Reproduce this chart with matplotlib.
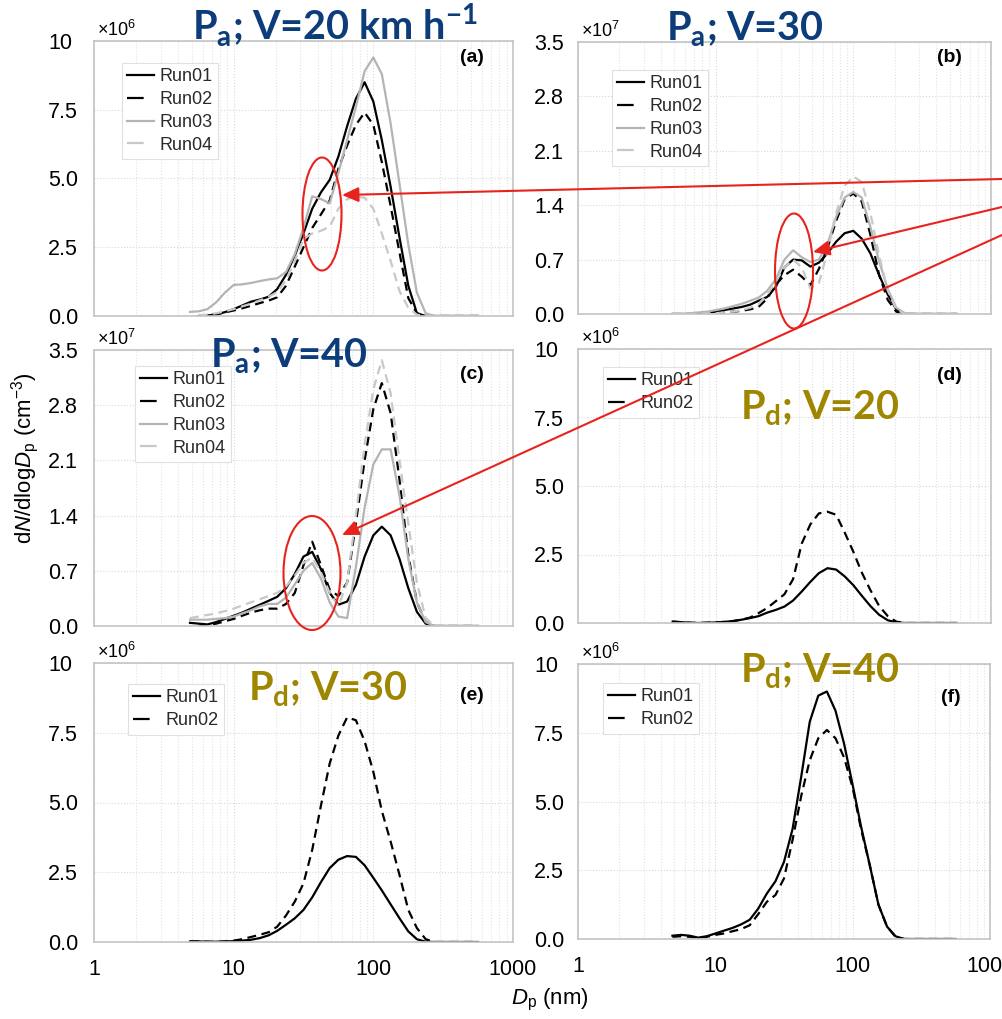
import numpy as np
import matplotlib
matplotlib.use('Agg')
import matplotlib.pyplot as plt
from matplotlib.patches import Ellipse, FancyArrowPatch
from matplotlib.lines import Line2D

plt.rcParams['font.family'] = ['Liberation Sans', 'DejaVu Sans']
plt.rcParams['mathtext.fontset'] = 'custom'
plt.rcParams['mathtext.rm'] = 'Liberation Sans'
plt.rcParams['mathtext.it'] = 'Liberation Sans:italic'
plt.rcParams['mathtext.bf'] = 'Lato:bold'

#%% data (values in units of the panel's x10^n factor)
dp = [4.87, 5.62, 6.49, 7.50, 8.66, 10.0, 11.5, 13.3, 15.4, 17.8, 20.5, 23.7, 27.4,
      31.6, 36.5, 42.2, 48.7, 56.2, 64.9, 75.0, 86.6, 100, 115, 133, 154, 178,
      205, 237, 274, 316, 365, 422, 487, 562]
nan = np.nan
# (a) Pa, V=20, x10^6
a_run01 = [nan, 0.0, 0.02, 0.06, 0.14, 0.25, 0.38, 0.52, 0.60, 0.70, 0.98, 1.5, 2.2,
           3.0, 3.9, 4.5, 4.95, 5.8, 6.9, 7.9, 8.5, 7.8, 6.4, 4.7, 2.85, 1.1,
           0.1, 0.0, 0, 0, 0, 0, 0, 0]
a_run02 = [nan, 0.0, 0.02, 0.06, 0.13, 0.20, 0.28, 0.37, 0.47, 0.56, 0.68, 1.1, 1.8,
           2.5, 3.2, 3.7, 4.2, 5.35, 6.2, 6.95, 7.4, 6.95, 5.6, 4.0, 2.3, 0.65,
           0.1, 0.0, 0, 0, 0, 0, 0, 0]
a_run03 = [0.15, 0.17, 0.25, 0.5, 0.85, 1.13, 1.15, 1.2, 1.27, 1.33, 1.37, 1.6, 2.25,
           3.2, 4.35, 4.25, 4.1, 5.2, 6.4, 7.6, 8.9, 9.4, 8.8, 7.0, 4.8, 2.6,
           0.85, 0.1, 0.0, 0, 0, 0, 0, 0]
a_run04 = [nan, 0.02, 0.05, 0.1, 0.17, 0.25, 0.35, 0.45, 0.57, 0.7, 0.87, 1.3, 2.0,
           2.8, 3.0, 3.1, 3.25, 3.9, 4.25, 4.35, 4.3, 3.9, 3.0, 2.0, 0.9, 0.3,
           0.05, 0.0, 0, 0, 0, 0, 0, 0]
# (b) Pa, V=30, x10^7
b_run01 = [0.0, 0.0, 0.0, 0.01, 0.02, 0.03, 0.05, 0.07, 0.09, 0.12, 0.17, 0.22, 0.35,
           0.6, 0.70, 0.69, 0.61, 0.66, 0.78, 0.93, 1.04, 1.07, 0.97, 0.78, 0.5, 0.25,
           0.06, 0.0, 0, 0, 0, 0, 0, 0]
b_run02 = [0.0, 0.0, 0.0, 0.0, 0.01, 0.01, 0.02, 0.03, 0.04, 0.06, 0.09, 0.2, 0.38,
           0.5, 0.57, 0.48, 0.37, 0.58, 0.85, 1.2, 1.48, 1.55, 1.45, 1.02, 0.5, 0.18,
           0.03, 0.0, 0, 0, 0, 0, 0, 0]
b_run03 = [0.0, 0.0, 0.01, 0.02, 0.03, 0.05, 0.07, 0.1, 0.13, 0.17, 0.21, 0.3, 0.45,
           0.7, 0.82, 0.73, 0.67, 0.7, 0.9, 1.25, 1.5, 1.57, 1.5, 1.12, 0.68, 0.32,
           0.08, 0.01, 0.0, 0, 0, 0, 0, 0]
b_run04 = [0.0, 0.0, 0.0, 0.0, 0.01, 0.01, 0.02, 0.03, 0.05, 0.08, 0.13, 0.25, 0.42,
           0.6, 0.7, 0.6, 0.33, 0.4, 0.8, 1.3, 1.65, 1.77, 1.7, 1.3, 0.75, 0.3,
           0.06, 0.0, 0, 0, 0, 0, 0, 0]
# (c) Pa, V=40, x10^7
c_run01 = [0.04, 0.03, 0.02, 0.05, 0.09, 0.13, 0.17, 0.22, 0.27, 0.32, 0.37, 0.48, 0.66,
           0.88, 0.94, 0.72, 0.42, 0.27, 0.31, 0.52, 0.88, 1.15, 1.26, 1.15, 0.85, 0.48,
           0.18, 0.03, 0.0, 0, 0, 0, 0, 0]
c_run02 = [nan, 0.0, 0.01, 0.03, 0.06, 0.09, 0.13, 0.17, 0.2, 0.22, 0.22, 0.28, 0.42,
           0.77, 1.07, 0.77, 0.46, 0.38, 0.55, 1.3, 2.1, 2.75, 3.08, 2.7, 1.85, 0.9,
           0.3, 0.05, 0.0, 0, 0, 0, 0, 0]
c_run03 = [0.08, 0.08, 0.08, 0.09, 0.1, 0.12, 0.16, 0.2, 0.25, 0.28, 0.28, 0.36, 0.53,
           0.7, 0.8, 0.6, 0.3, 0.12, 0.1, 0.75, 1.5, 2.05, 2.24, 2.24, 1.65, 0.85,
           0.3, 0.05, 0.0, 0, 0, 0, 0, 0]
c_run04 = [0.1, 0.12, 0.14, 0.16, 0.19, 0.22, 0.26, 0.3, 0.34, 0.38, 0.42, 0.5, 0.64,
           0.8, 0.87, 0.68, 0.42, 0.25, 0.55, 1.4, 2.3, 3.0, 3.37, 2.95, 2.1, 1.3,
           0.55, 0.1, 0.0, 0, 0, 0, 0, 0]
# (d) Pd, V=20, x10^6
d_run01 = [0.05, 0.03, 0.01, 0.0, 0.01, 0.02, 0.04, 0.07, 0.12, 0.18, 0.25, 0.38, 0.48,
           0.6, 0.82, 1.15, 1.5, 1.82, 2.0, 1.95, 1.7, 1.38, 1.0, 0.62, 0.3, 0.1,
           0.02, 0.0, 0, 0, 0, 0, 0, 0]
d_run02 = [0.05, 0.03, 0.01, 0.0, 0.01, 0.02, 0.04, 0.07, 0.12, 0.2, 0.36, 0.55, 0.8,
           1.05, 1.6, 2.9, 3.6, 4.0, 4.06, 3.95, 3.3, 2.6, 1.85, 1.2, 0.62, 0.25,
           0.05, 0.0, 0, 0, 0, 0, 0, 0]
# (e) Pd, V=30, x10^6
e_run01 = [0.02, 0.02, 0.01, 0.01, 0.02, 0.03, 0.05, 0.08, 0.14, 0.24, 0.4, 0.62, 0.85,
           1.15, 1.6, 2.15, 2.65, 2.95, 3.08, 3.05, 2.75, 2.3, 1.85, 1.35, 0.85, 0.38,
           0.1, 0.01, 0.0, 0, 0, 0, 0, 0]
e_run02 = [0.02, 0.02, 0.01, 0.0, 0.02, 0.05, 0.1, 0.18, 0.26, 0.35, 0.55, 0.95, 1.45,
           2.1, 3.3, 4.9, 6.4, 7.4, 8.05, 7.95, 7.2, 6.1, 4.7, 3.6, 2.4, 1.15,
           0.5, 0.1, 0.0, 0, 0, 0, 0, 0]
# (f) Pd, V=40, x10^6
f_run01 = [0.12, 0.15, 0.12, 0.05, 0.1, 0.2, 0.3, 0.4, 0.53, 0.7, 1.1, 1.65, 2.1,
           2.8, 4.0, 5.9, 7.9, 8.85, 9.0, 8.3, 7.1, 5.6, 4.1, 2.7, 1.25, 0.45,
           0.1, 0.0, 0, 0, 0, 0, 0, 0]
f_run02 = [0.08, 0.1, 0.08, 0.04, 0.08, 0.15, 0.2, 0.28, 0.36, 0.5, 0.9, 1.35, 1.6,
           2.2, 3.6, 5.2, 6.5, 7.3, 7.6, 7.3, 6.6, 5.5, 4.0, 2.7, 1.25, 0.45,
           0.08, 0.0, 0, 0, 0, 0, 0, 0]

run_names = ['Run01', 'Run02', 'Run03', 'Run04']
ticks_e6 = [0, 2.5, 5.0, 7.5, 10]
labels_e6 = ['0.0', '2.5', '5.0', '7.5', '10']
ticks_e7 = [0, 0.7, 1.4, 2.1, 2.8, 3.5]
labels_e7 = ['0.0', '0.7', '1.4', '2.1', '2.8', '3.5']

#%% figure
W, H = 1002, 1019
fig = plt.figure(figsize=(W / 100, H / 100), dpi=100)

def rect(l, t, r, b):
    return [l / W, 1 - b / H, (r - l) / W, (b - t) / H]

colors = ['black', 'black', '#b4b4b4', '#c8c8c8']
line_ls = ['-', (0, (4, 2.5)), '-', (0, (4, 2.5))]
legend_ls = ['-', (0, (7.5, 6)), '-', (0, (7.5, 6))]

# box (px), runs, exponent, legend offset (px), label, label offset (px), x labels
panels = [
    ((94, 41, 513, 316), [a_run01, a_run02, a_run03, a_run04], 6, (28, 22), '(a)', 17, False),
    ((578, 42, 991, 314), [b_run01, b_run02, b_run03, b_run04], 7, (34, 28), '(b)', 15, False),
    ((94, 350, 513, 626), [c_run01, c_run02, c_run03, c_run04], 7, (41, 16), '(c)', 25, False),
    ((578, 349, 991, 623), [d_run01, d_run02], 6, (25, 18), '(d)', 26, False),
    ((94, 663, 513, 942), [e_run01, e_run02], 6, (34, 21), '(e)', 32, True),
    ((578, 664, 990, 939), [f_run01, f_run02], 6, (25, 19), '(f)', 33, True),
]

for box, runs, expo, leg_off, lab, lab_dy, bottom in panels:
    l, t, r, b = box
    ax = fig.add_axes(rect(l, t, r, b))
    handles = []
    for i, vals in enumerate(runs):
        ax.plot(dp, vals, lw=1.6, color=colors[i], ls=line_ls[i])
        handles.append(Line2D([], [], lw=1.6, color=colors[i], ls=legend_ls[i]))
    ax.set_xscale('log')
    ax.set_xlim(1, 1000)
    if expo == 6:
        ax.set_ylim(0, 10)
        ax.set_yticks(ticks_e6)
        ax.set_yticklabels(labels_e6, ha='left')
    else:
        ax.set_ylim(0, 3.5)
        ax.set_yticks(ticks_e7)
        ax.set_yticklabels(labels_e7, ha='left')
    pad = 46 if l < 500 else 44
    ax.tick_params(axis='y', length=0, pad=pad * 0.72, labelsize=15.5)
    ax.tick_params(axis='x', which='both', length=0, pad=12, labelsize=15.5)
    ax.set_xticks([1, 10, 100, 1000])
    if bottom:
        ax.set_xticklabels(['1', '10', '100', '1000'])
    else:
        ax.set_xticklabels([])
    ax.grid(True, which='major', axis='both', ls=':', color='#d8d8d8', lw=0.8)
    ax.grid(True, which='minor', axis='x', ls=':', color='#e2e2e2', lw=0.8)
    for sp in ax.spines.values():
        sp.set_color('#c4c4c4')
        sp.set_linewidth(1.2)
    wpx, hpx = r - l, b - t
    leg = ax.legend(handles, run_names[:len(runs)], loc='upper left',
                    bbox_to_anchor=(leg_off[0] / wpx, 1 - leg_off[1] / hpx),
                    borderaxespad=0, fontsize=13, handlelength=1.45, handletextpad=0.3,
                    labelspacing=0.32, borderpad=0.3, fancybox=False, framealpha=1)
    leg.get_frame().set_edgecolor('#e0e0e0')
    leg.get_frame().set_linewidth(0.8)
    for txt in leg.get_texts():
        txt.set_color('#2a2a2a')
    ax.text(1 - 29 / wpx, 1 - lab_dy / hpx, lab, transform=ax.transAxes,
            ha='right', va='center', fontsize=14, fontweight='bold')
    fig.text((l + 3) / W, 1 - (t - 11) / H, r'×10$^{%d}$' % expo, fontsize=13,
             ha='left', va='center')

#%% labels
fig.text(25 / W, 1 - 458 / H, r'd$N$/dlog$D_\mathrm{p}$ (cm$^{-3}$)', rotation=90,
         ha='center', va='center', fontsize=16)
fig.text(550 / W, 1 - 1000 / H, r'$D_\mathrm{p}$ (nm)', ha='center', va='center', fontsize=16)

blue = '#0c3d7a'
olive = '#9e8600'
titles = [
    (192, 40, r'P$_{\mathbf{a}}$; V=20 km h$^{\mathbf{-1}}$', blue),
    (666, 40, r'P$_{\mathbf{a}}$; V=30', blue),
    (210, 367, r'P$_{\mathbf{a}}$; V=40', blue),
    (740, 419, r'P$_{\mathbf{d}}$; V=20', olive),
    (248, 700, r'P$_{\mathbf{d}}$; V=30', olive),
    (740, 682, r'P$_{\mathbf{d}}$; V=40', olive),
]
for x, y, s, c in titles:
    fig.text(x / W, 1 - y / H, s, color=c, fontsize=28.5, fontfamily='Lato',
             fontweight='bold', ha='left', va='baseline')

#%% red ellipses and arrows
red = '#e8231e'
for cx, cy, w, h in [(322, 214, 39, 113), (794, 271, 38, 115), (312, 573, 57, 114)]:
    fig.add_artist(Ellipse((cx / W, 1 - cy / H), w / W, h / H, transform=fig.transFigure,
                           fill=False, edgecolor=red, lw=1.5))
for (x0, y0), (x1, y1) in [((1002, 179), (342, 195)), ((1002, 207), (813, 252)),
                           ((1002, 235), (342, 535))]:
    fig.add_artist(FancyArrowPatch((x0 / W, 1 - y0 / H), (x1 / W, 1 - y1 / H),
                                   transform=fig.transFigure, color=red, lw=1.5,
                                   arrowstyle='-|>,head_length=1.0,head_width=0.45',
                                   mutation_scale=10, shrinkA=0, shrinkB=0))

fig.savefig('out.png', dpi=100)
